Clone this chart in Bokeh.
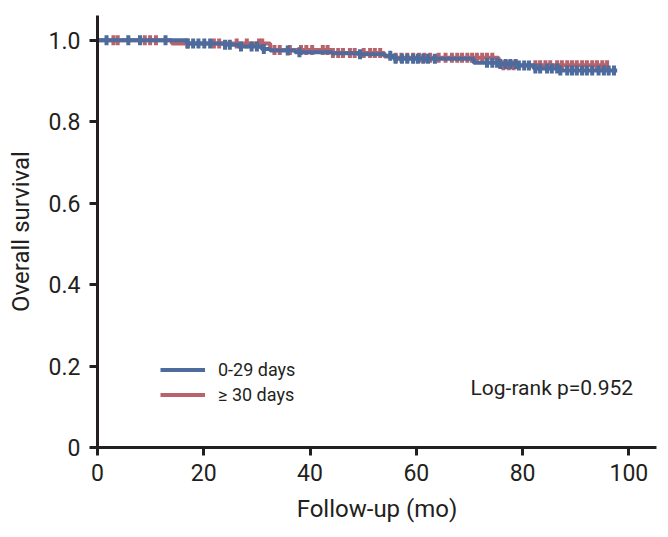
import numpy as np
from bokeh.plotting import figure
from bokeh.models import Range1d, FixedTicker, Legend, LegendItem, Label
from bokeh.embed import file_html
from bokeh.resources import INLINE

# ---- data ----
blue_times = [0, 16.8, 23.7, 26.5, 30.9, 32.5, 37.2, 44.1, 49.0, 54.0, 55.8, 70.8, 75.5, 79.3, 82.1, 87.1]
blue_surv = [1.000, 0.992, 0.989, 0.985, 0.979, 0.975, 0.971, 0.968, 0.966, 0.962, 0.955, 0.945, 0.942, 0.938, 0.931, 0.926]
blue_end = 97.8
blue_censor = [1.7, 5.8, 8.0, 12.8, 17.0, 18.0, 19.0, 20.1, 21.2, 24.0, 24.9, 27.0, 29.0, 30.0, 31.3,
               35.8, 38.0, 49.4, 55.1, 56.1, 57.3, 58.3, 59.4, 60.3, 61.3, 62.2, 63.5, 73.3, 74.3, 75.2,
               75.8, 76.8, 77.7, 78.7, 79.3, 80.3, 81.2, 82.4, 83.3, 84.6, 85.5, 86.5, 87.1, 88.4, 89.3,
               90.2, 91.2, 92.1, 93.1, 94.3, 95.3, 96.2, 97.2]

red_times = [0, 14.0, 32.5, 44.0, 54.0, 55.8, 75.5]
red_surv = [1.000, 0.992, 0.976, 0.969, 0.960, 0.957, 0.939]
red_end = 96.0
red_censor = [3.0, 3.8, 8.9, 9.9, 11.0, 16.9, 21.9, 22.9, 26.2, 28.1, 30.4, 31.0, 33.3, 34.3, 36.2,
              38.3, 39.3, 40.4, 42.4, 43.3, 44.3, 45.3, 46.2, 47.5, 48.4, 50.1, 51.3, 52.2, 53.2,
              56.1, 57.2, 58.3, 59.4, 60.5, 61.5, 62.6, 64.2, 65.5, 66.7, 67.7, 68.6, 69.6, 70.5,
              71.4, 72.4, 73.3, 74.3, 76.4, 77.4, 78.3, 82.4, 83.3, 84.3, 85.2, 86.5, 87.4, 88.4,
              89.3, 90.2, 91.2, 92.1, 93.1, 94.0, 95.0, 95.9]

x_ticks = [0, 20, 40, 60, 80, 100]
y_ticks = [0, 0.2, 0.4, 0.6, 0.8, 1.0]
y_tick_labels = ["0", "0.2", "0.4", "0.6", "0.8", "1.0"]
labels = ["0-29 days", "\u2265 30 days"]
annotation = "Log-rank p=0.952"

BLUE = "#4d6b9c"
RED = "#b8626c"
INK = "#231f20"
FONT = "Roboto"


def step_xy(times, surv, end):
    xs = list(times) + [end]
    ys = list(surv) + [surv[-1]]
    return xs, ys


def surv_at(times, surv, t):
    idx = np.searchsorted(np.array(times), np.array(t), side="right") - 1
    return np.array(surv)[idx]


p = figure(width=660, height=529, output_backend="svg", toolbar_location=None,
           x_range=Range1d(0, 105.2), y_range=Range1d(0, 1.061),
           min_border_left=97, min_border_right=4, min_border_top=15, min_border_bottom=82)
p.outline_line_color = None
p.grid.visible = False
p.background_fill_color = "white"

rx, ry = step_xy(red_times, red_surv, red_end)
red_r = p.step(rx, ry, mode="after", line_color=RED, line_width=4)
p.rect(red_censor, surv_at(red_times, red_surv, red_censor), width=4, height=10,
       width_units="screen", height_units="screen", fill_color=RED, line_color=None)

bx, by = step_xy(blue_times, blue_surv, blue_end)
blue_r = p.step(bx, by, mode="after", line_color=BLUE, line_width=4)
p.rect(blue_censor, surv_at(blue_times, blue_surv, blue_censor), width=4, height=10,
       width_units="screen", height_units="screen", fill_color=BLUE, line_color=None)

for ax in (p.xaxis[0], p.yaxis[0]):
    ax.axis_line_color = INK
    ax.axis_line_width = 3
    ax.major_tick_line_color = INK
    ax.major_tick_line_width = 3
    ax.major_tick_out = 8
    ax.major_tick_in = 0
    ax.minor_tick_line_color = None
    ax.major_label_text_font = FONT
    ax.major_label_text_font_size = "23px"
    ax.major_label_text_color = INK
    ax.axis_label_text_font = FONT
    ax.axis_label_text_font_size = "24px"
    ax.axis_label_text_font_style = "normal"
    ax.axis_label_text_color = INK

p.xaxis.ticker = FixedTicker(ticks=x_ticks)
p.yaxis.ticker = FixedTicker(ticks=y_ticks)
p.yaxis.major_label_overrides = {t: l for t, l in zip(y_ticks, y_tick_labels)}
p.xaxis.axis_label = "Follow-up (mo)"
p.yaxis.axis_label = "Overall survival"
p.xaxis.major_label_standoff = 8
p.yaxis.major_label_standoff = 9
p.xaxis.axis_label_standoff = 11
p.yaxis.axis_label_standoff = 11

legend = Legend(items=[LegendItem(label=labels[0], renderers=[blue_r]),
                       LegendItem(label=labels[1], renderers=[red_r])],
                location=(63, 40), padding=0, margin=0, spacing=0,
                glyph_width=45, glyph_height=25, label_height=25, label_standoff=13,
                border_line_color=None, background_fill_alpha=0,
                label_text_font=FONT, label_text_font_size="18px", label_text_color=INK)
p.add_layout(legend)

p.add_layout(Label(x=70.2, y=0.145, text=annotation, text_baseline="middle",
                   text_font=FONT, text_font_size="21px", text_color=INK))

open("out.html", "w").write(file_html(p, INLINE))
